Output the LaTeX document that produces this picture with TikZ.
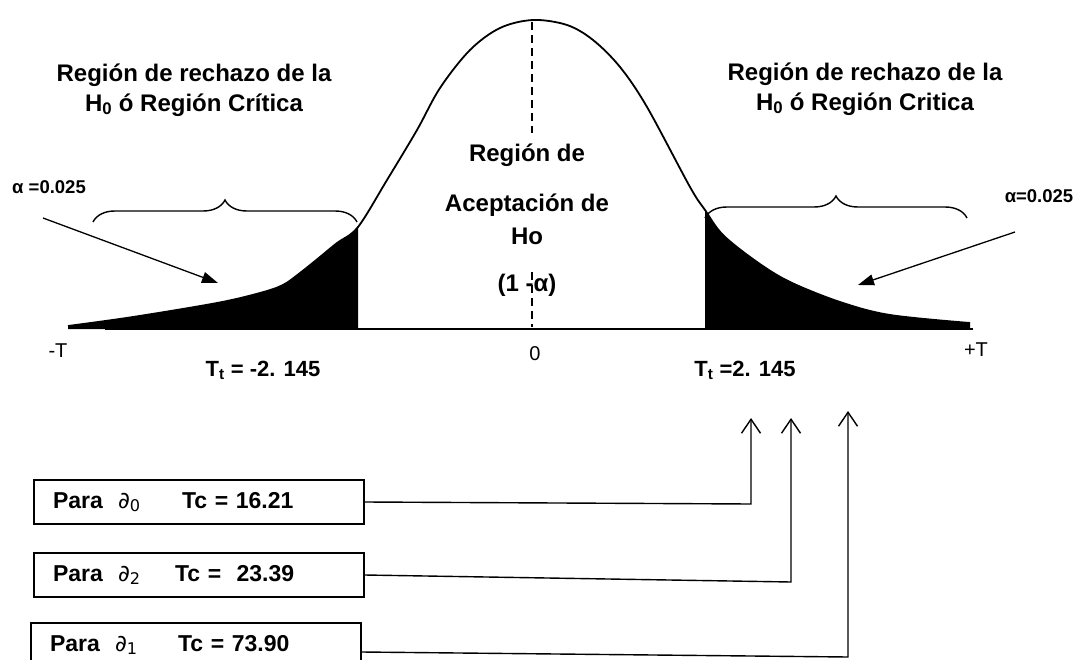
\documentclass[tikz,border=0pt]{standalone}
\usepackage{fontspec}
\setmainfont{Liberation Sans}
\newfontfamily\dfont{DejaVu Sans}
\usetikzlibrary{arrows.meta,decorations.pathreplacing}
\newcommand\bellpath{plot[smooth,tension=0.55] coordinates {(68,326) (133,317) (217,303) (260,293) (283,285) (300,273) (320,257) (337,243) (358,227) (387,180) (417,130) (440,88) (470,50) (500,28) (533,20) (567,25) (593,40) (620,67) (647,107) (690,187) (705,210) (723,235) (757,262) (790,282) (840,302) (890,315) (970,323)}}
\begin{document}
\begin{tikzpicture}[x=1pt,y=-1pt,
  btxt/.style={font=\bfseries\fontsize{24}{30}\selectfont, inner sep=0pt, align=center},
  stxt/.style={font=\fontsize{20}{24}\selectfont, inner sep=0pt},
  ttxt/.style={font=\bfseries\fontsize{22}{26}\selectfont, inner sep=0pt},
  atxt/.style={font=\bfseries\fontsize{18.5}{22}\selectfont, inner sep=0pt},
  pbox/.style={draw, line width=1.3pt, minimum width=330pt, minimum height=44pt, inner xsep=19pt, inner ysep=0pt, text width=292pt, align=left, font=\bfseries\fontsize{23}{28}\selectfont},
  conn/.style={line width=1.4pt, -{Straight Barb[length=14pt,width=19pt]}},
  aconn/.style={line width=1.3pt, -{Triangle[length=16pt,width=11pt]}},
  bracestyle/.style={line width=1.4pt, decorate, decoration={brace, amplitude=22pt}}
]
\useasboundingbox (0,0) rectangle (1078,660);
\clip (0,0) rectangle (1078,660);
\fill[white] (0,0) rectangle (1078,660);

% shaded tails
\begin{scope}
  \clip (0,0) rectangle (358,340);
  \fill[black] \bellpath -- (970,329) -- (68,329) -- cycle;
\end{scope}
\begin{scope}
  \clip (705,0) rectangle (1078,340);
  \fill[black] \bellpath -- (970,329) -- (68,329) -- cycle;
\end{scope}
% curve
\draw[line width=1.8pt] \bellpath;
% axis
\draw[line width=2.5pt] (105,329) -- (973,329);
% centre dashed line
\draw[line width=1.3pt, dash pattern=on 8pt off 5pt] (532,22) -- (532,133);
\draw[line width=1.3pt, dash pattern=on 8pt off 5pt] (532,272) -- (532,327);

% braces
\draw[bracestyle] (93,222) -- (357,222);
\draw[bracestyle] (705,218) -- (967,218);

% titles
\node[btxt] (tl) at (194,90) {Región de rechazo de la\\H\textsubscript{0} ó Región Crítica};
\node[btxt] (tr) at (865,89) {Región de rechazo de la\\H\textsubscript{0} ó Región Critica};

% centre text
\node[btxt] (c1t) at (527,155) {Región de};
\node[btxt] (c2t) at (527,205) {Aceptación de};
\node[btxt] (c3t) at (527,236) {Ho};
\node[btxt] (c4t) at (527,285) {(1 -α)};

% alpha labels and arrows
\node[atxt] (al) at (49,187) {α =0.025};
\node[atxt] (ar) at (1039,196) {α=0.025};
\coordinate (la1) at (43,218);
\coordinate (la2) at (218,283);
\coordinate (ra1) at (1015,232);
\coordinate (ra2) at (858,285);
\draw[aconn] (la1) -- (la2);
\draw[aconn] (ra1) -- (ra2);

% axis labels
\node[stxt] (mT) at (58,351) {-T};
\node[stxt] (pT) at (976,350) {+T};
\node[stxt, font=\fontsize{20}{24}\selectfont] (zero) at (535,354) {0};
\node[ttxt] (ttl) at (263,370) {T\textsubscript{t} = -2. 145};
\node[ttxt] (ttr) at (745,370) {T\textsubscript{t} =2. 145};

% boxes
\node[pbox] (b1) at (199,502) {\makebox[65pt][l]{Para}\makebox[64pt][l]{{\dfont\mdseries ∂\textsubscript{0}}}Tc = 16.21};
\node[pbox] (b2) at (199,575) {\makebox[65pt][l]{Para}\makebox[57pt][l]{{\dfont\mdseries ∂\textsubscript{2}}}Tc =\ \ 23.39};
\node[pbox] (b3) at (196,645) {\makebox[65pt][l]{Para}\makebox[63pt][l]{{\dfont\mdseries ∂\textsubscript{1}}}Tc = 73.90};

% connectors
\coordinate (k1) at (751,504);
\coordinate (t1) at (751,418);
\coordinate (k2) at (791,582);
\coordinate (t2) at (791,418);
\coordinate (k3) at (848,657);
\coordinate (t3) at (848,411);
\draw[conn] (b1.east) -- (k1) -- (t1);
\draw[conn] (b2.east) -- (k2) -- (t2);
\draw[conn] ([yshift=-7pt]b3.east) -- (k3) -- (t3);
\end{tikzpicture}
\end{document}
